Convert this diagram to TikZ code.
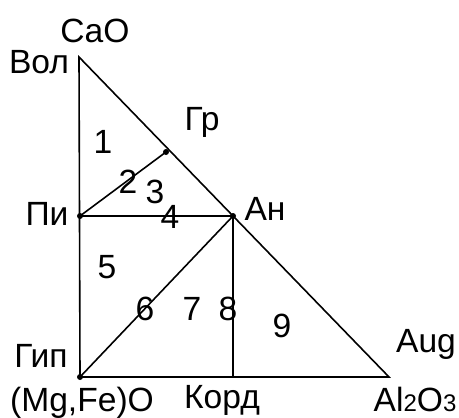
\documentclass[tikz,border=0pt]{standalone}
\usepackage{fontspec}
\setmainfont{Liberation Sans}
\begin{document}
\begin{tikzpicture}[x=0.5pt,y=-0.5pt,line width=0.8pt,
    lbl/.style={anchor=base,inner sep=0pt,font=\fontsize{16.8}{20}\selectfont},
    pt/.style={circle,fill,inner sep=0pt,minimum size=3pt}]
    \useasboundingbox (0,0) rectangle (459,417);
    % triangle CaO - (Mg,Fe)O - Al2O3
    \coordinate (cao) at (79,57);
    \coordinate (alo) at (389,377);
    \node[pt] (gip) at (80,377) {};
    \draw (cao) -- (gip.center) -- (alo) -- cycle;
    % phase points and joins
    \node[pt] (pi) at (80,216) {};
    \node[pt] (an) at (233,216) {};
    \node[pt] (gr) at (166,152) {};
    \coordinate (kord) at (233,377);
    \draw (pi.center) -- (gr.center);
    \draw (pi.center) -- (an.center);
    \draw (gip.center) -- (an.center);
    \draw (an.center) -- (kord);
    % labels of the corners and phases
    \node[lbl] (caoL) at (95,43) {CaO};
    \node[lbl] (vol) at (39,74) {Вол};
    \node[lbl] (grL) at (202,130) {Гр};
    \node[lbl] (piL) at (47,225) {Пи};
    \node[lbl] (anL) at (265,220) {Ан};
    \node[lbl] (gipL) at (41,367) {Гип};
    \node[lbl] (mgoL) at (82,411) {(Mg,Fe)O};
    \node[lbl] (kordL) at (222,408) {Корд};
    \node[lbl] (aug) at (426,352) {Aug};
    \node[lbl] (aloL) at (415,411) {Al{\fontsize{12}{14}\selectfont 2}O{\fontsize{12}{14}\selectfont 3}};
    % field numbers
    \node[lbl] (f1) at (103,153) {1};
    \node[lbl] (f2) at (128,193) {2};
    \node[lbl] (f3) at (155,203) {3};
    \node[lbl] (f4) at (170,228) {4};
    \node[lbl] (f5) at (107,278) {5};
    \node[lbl] (f6) at (145,320) {6};
    \node[lbl] (f7) at (192,320) {7};
    \node[lbl] (f8) at (228,320) {8};
    \node[lbl] (f9) at (282,337) {9};
\end{tikzpicture}
\end{document}
